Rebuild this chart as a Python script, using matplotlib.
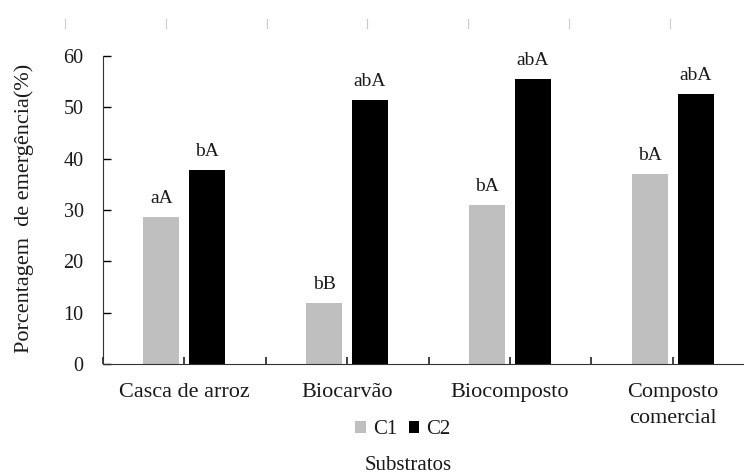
import numpy as np
import matplotlib
matplotlib.use("Agg")
import matplotlib.pyplot as plt
from matplotlib.lines import Line2D

# data
substratos = ["Casca de arroz", "Biocarvão", "Biocomposto", "Composto\ncomercial"]
c1 = [28.6, 11.8, 31.0, 37.0]
c2 = [37.8, 51.4, 55.5, 52.6]
letras_c1 = ["aA", "bB", "bA", "bA"]
letras_c2 = ["bA", "abA", "abA", "abA"]

plt.rcParams['font.family'] = ['Liberation Serif', 'DejaVu Serif']
txt = '#1a1a1a'

fig = plt.figure(figsize=(7.44, 4.76), dpi=100)
# axes run past the right edge of the picture, as in the reference
ax = fig.add_axes([103 / 744, 1 - 364 / 476, 651 / 744, 308 / 476])

x = np.arange(len(substratos))
w = 0.221
off = 0.141
b1 = ax.bar(x - off, c1, w, color='#bfbfbf', label='C1')
b2 = ax.bar(x + off, c2, w, color='#000000', label='C2')

for xi, v, s in zip(x - off, c1, letras_c1):
    ax.text(xi, v + 2.0, s, ha='center', va='bottom', fontsize=14, color=txt)
for xi, v, s in zip(x + off, c2, letras_c2):
    ax.text(xi, v + 2.0, s, ha='center', va='bottom', fontsize=14, color=txt)

ax.set_xlim(-0.5, 3.5)
ax.set_ylim(0, 60)
ax.set_yticks(range(0, 61, 10))
ax.set_xticks(x)
ax.set_xticklabels(substratos, fontsize=16, color=txt, linespacing=1.5)
ax.set_xticks(np.arange(-0.5, 3.6, 1.0), minor=True)
ax.tick_params(axis='y', direction='in', length=6, width=1, labelsize=14.5,
               labelcolor=txt, pad=14)
ax.tick_params(axis='x', which='both', direction='in', length=5, width=1.2,
               color='#222222', pad=14)
for sp in ['top', 'right']:
    ax.spines[sp].set_visible(False)
for sp in ['left', 'bottom']:
    ax.spines[sp].set_color('#333333')

fig.text(24 / 744, 1 - 208 / 476, "Porcentagem  de emergência(%)", rotation=90,
         ha='center', va='center', fontsize=16, color=txt)
fig.text(408 / 744, 1 - 470 / 476, "Substratos", ha='center', va='baseline',
         fontsize=15, color=txt)

fig.legend(handles=[b1, b2], loc='center', bbox_to_anchor=(403 / 744, 1 - 430 / 476),
           ncol=2, frameon=False, fontsize=15, handlelength=0.5, handleheight=0.5,
           handletextpad=0.35, columnspacing=0.55, labelcolor=txt, borderpad=0)

# faint ruler marks along the top edge
for px in [65, 166, 267, 367, 468, 569, 670]:
    fig.add_artist(Line2D([px / 744, px / 744], [1 - 19 / 476, 1 - 28 / 476],
                          color='#cccccc', lw=0.8))

fig.savefig("out.png", dpi=100)
